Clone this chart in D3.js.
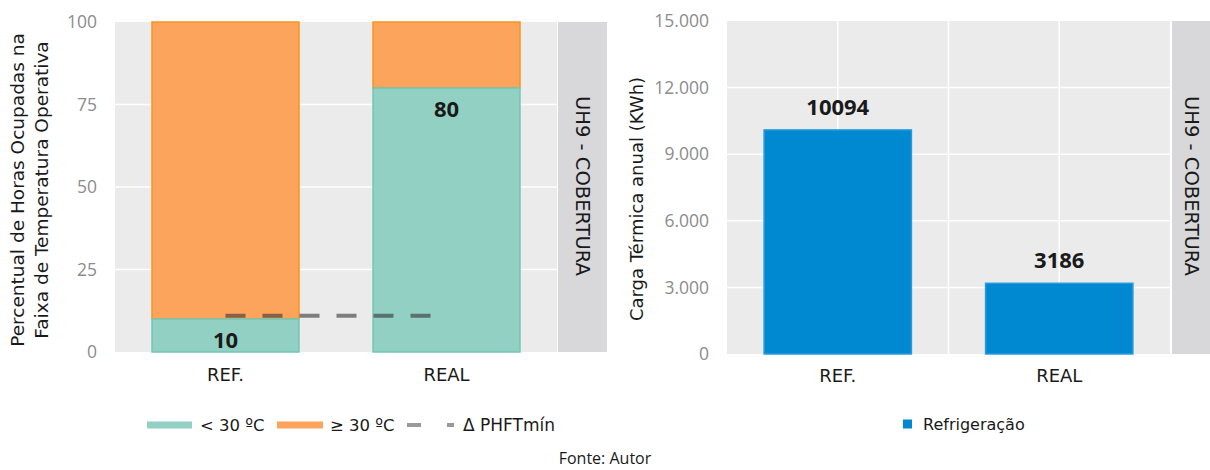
<!DOCTYPE html>
<html>
<head>
<meta charset="utf-8">
<script src="https://cdn.jsdelivr.net/npm/d3@7"></script>
<style>
  body { margin: 0; background: #fff; }
  text { font-family: "DejaVu Sans", sans-serif; }
</style>
</head>
<body>
<script>
  // dados
  const categorias = ['REF.', 'REAL'];
  const abaixo30 = [10, 80];          // % horas < 30 ºC
  const acima30 = [90, 20];           // % horas >= 30 ºC
  const phftMin = 11;                 // linha tracejada
  const pctTicks = [0, 25, 50, 75, 100];
  const refrigeracao = [10094, 3186]; // KWh
  const cargaTicks = [0, 3000, 6000, 9000, 12000, 15000];
  const faixa = 'UH9 - COBERTURA';

  const width = 1210;
  const height = 470;

  const svg = d3.select('body')
          .append('svg')
          .attr('width', width)
          .attr('height', height);

  const fmtPt = d3.formatLocale({ decimal: ',', thousands: '.', grouping: [3], currency: ['', ''] }).format(',d');

  // ---------- painel esquerdo ----------
  const xL = d3.scaleBand().domain(categorias).range([115, 557]).paddingInner(0.335).paddingOuter(0.1675);
  const yL = d3.scaleLinear().domain([0, 100]).range([352, 22]);

  const gL = svg.append('g');
  gL.append('rect').attr('x', 115).attr('y', 22).attr('width', 442).attr('height', 330).attr('fill', '#ebebeb');
  gL.selectAll('line.grid').data(pctTicks.slice(1, -1)).enter().append('line')
          .attr('x1', 115).attr('x2', 557)
          .attr('y1', d => yL(d)).attr('y2', d => yL(d))
          .attr('stroke', '#fff').attr('stroke-width', 1.5);

  const pilha = categorias.map((c, i) => ({ cat: c, baixo: abaixo30[i], alto: acima30[i] }));
  gL.selectAll('rect.alto').data(pilha).enter().append('rect')
          .attr('x', d => xL(d.cat)).attr('width', xL.bandwidth())
          .attr('y', d => yL(d.baixo + d.alto)).attr('height', d => yL(d.baixo) - yL(d.baixo + d.alto))
          .attr('fill', '#fda45c').attr('stroke', '#f7941d').attr('stroke-width', 1.5);
  gL.selectAll('rect.baixo').data(pilha).enter().append('rect')
          .attr('x', d => xL(d.cat)).attr('width', xL.bandwidth())
          .attr('y', d => yL(d.baixo)).attr('height', d => yL(0) - yL(d.baixo))
          .attr('fill', '#92d0c3').attr('stroke', '#72c6b6').attr('stroke-width', 1.5);

  gL.append('line')
          .attr('x1', xL('REF.') + xL.bandwidth() / 2)
          .attr('x2', xL('REAL') + xL.bandwidth() / 2)
          .attr('y1', yL(phftMin)).attr('y2', yL(phftMin))
          .attr('stroke', '#333').attr('stroke-opacity', 0.6)
          .attr('stroke-width', 4).attr('stroke-dasharray', '20,17');

  gL.selectAll('text.val').data(pilha).enter().append('text')
          .attr('x', d => xL(d.cat) + xL.bandwidth() / 2)
          .attr('y', d => yL(d.baixo - 6.5))
          .attr('dy', '0.35em')
          .attr('text-anchor', 'middle')
          .attr('font-size', '22px').attr('font-weight', 'bold')
          .style('font-family', '"Open Sans", sans-serif')
          .attr('fill', '#1a1a1a')
          .text(d => d.baixo);

  const axL = gL.append('g').attr('transform', 'translate(115,0)')
          .call(d3.axisLeft(yL).tickValues(pctTicks).tickSize(0).tickPadding(18));
  axL.select('.domain').remove();
  axL.selectAll('text').attr('font-size', '17.5px').attr('fill', '#8c8c8c')
          .style('font-family', '"Open Sans", sans-serif');

  const axLx = gL.append('g').attr('transform', 'translate(0,352)')
          .call(d3.axisBottom(xL).tickSize(0).tickPadding(16));
  axLx.select('.domain').remove();
  axLx.selectAll('text').attr('font-size', '18px').attr('fill', '#1a1a1a');

  const tituloL = gL.append('text')
          .attr('transform', 'translate(0,190) rotate(-90)')
          .attr('text-anchor', 'middle')
          .attr('font-size', '18.5px').attr('fill', '#1a1a1a');
  tituloL.append('tspan').attr('x', 0).attr('y', 18).attr('dy', '0.35em').text('Percentual de Horas Ocupadas na');
  tituloL.append('tspan').attr('x', 0).attr('y', 42).attr('dy', '0.35em').text('Faixa de Temperatura Operativa');

  gL.append('rect').attr('x', 558).attr('y', 22).attr('width', 49).attr('height', 330).attr('fill', '#d8d8da');
  gL.append('text')
          .attr('transform', 'translate(583,186) rotate(90)')
          .attr('text-anchor', 'middle').attr('dy', '0.35em')
          .attr('font-size', '19.5px').attr('fill', '#1a1a1a')
          .text(faixa);

  // legenda esquerda
  const legL = svg.append('g').attr('transform', 'translate(0,425)');
  legL.append('rect').attr('x', 147).attr('y', -3.5).attr('width', 45).attr('height', 7).attr('fill', '#92d0c3');
  legL.append('text').attr('x', 200).attr('dy', '0.35em').attr('font-size', '16.5px').attr('fill', '#1a1a1a').text('< 30 ºC');
  legL.append('rect').attr('x', 277).attr('y', -3.5).attr('width', 46).attr('height', 7).attr('fill', '#fda45c');
  legL.append('text').attr('x', 330).attr('dy', '0.35em').attr('font-size', '16.5px').attr('fill', '#1a1a1a').text('≥ 30 ºC');
  legL.append('line').attr('x1', 407).attr('x2', 454).attr('y1', 0).attr('y2', 0)
          .attr('stroke', '#333').attr('stroke-opacity', 0.5).attr('stroke-width', 4).attr('stroke-dasharray', '14,26');
  legL.append('text').attr('x', 463).attr('dy', '0.35em').attr('font-size', '17px').attr('fill', '#1a1a1a').text('Δ PHFTmín');

  // ---------- painel direito ----------
  const xR = d3.scaleBand().domain(categorias).range([727, 1170]).paddingInner(0.335).paddingOuter(0.1675);
  const yR = d3.scaleLinear().domain([0, 15000]).range([354, 21]);

  const gR = svg.append('g');
  gR.append('rect').attr('x', 727).attr('y', 21).attr('width', 443).attr('height', 333).attr('fill', '#ebebeb');
  gR.selectAll('line.gridy').data(cargaTicks.slice(1, -1)).enter().append('line')
          .attr('x1', 727).attr('x2', 1170)
          .attr('y1', d => yR(d)).attr('y2', d => yR(d))
          .attr('stroke', '#fff').attr('stroke-width', 1.5);
  const centros = categorias.map(c => xR(c) + xR.bandwidth() / 2);
  const vx = [centros[0], (centros[0] + centros[1]) / 2, centros[1]];
  gR.selectAll('line.gridx').data(vx).enter().append('line')
          .attr('x1', d => d).attr('x2', d => d)
          .attr('y1', 21).attr('y2', 354)
          .attr('stroke', '#fff').attr('stroke-width', 1.5);

  gR.selectAll('rect.bar').data(refrigeracao).enter().append('rect')
          .attr('x', (d, i) => xR(categorias[i])).attr('width', xR.bandwidth())
          .attr('y', d => yR(d)).attr('height', d => yR(0) - yR(d))
          .attr('fill', '#0088d0').attr('stroke', '#2b9be0').attr('stroke-width', 1.5);

  gR.selectAll('text.val').data(refrigeracao).enter().append('text')
          .attr('x', (d, i) => xR(categorias[i]) + xR.bandwidth() / 2)
          .attr('y', d => yR(d) - 23)
          .attr('dy', '0.35em')
          .attr('text-anchor', 'middle')
          .attr('font-size', '22px').attr('font-weight', 'bold')
          .style('font-family', '"Open Sans", sans-serif')
          .attr('fill', '#1a1a1a')
          .text(d => d);

  const axR = gR.append('g').attr('transform', 'translate(727,0)')
          .call(d3.axisLeft(yR).tickValues(cargaTicks).tickFormat(fmtPt).tickSize(0).tickPadding(18));
  axR.select('.domain').remove();
  axR.selectAll('text').attr('font-size', '17.5px').attr('fill', '#8c8c8c')
          .style('font-family', '"Open Sans", sans-serif');

  const axRx = gR.append('g').attr('transform', 'translate(0,354)')
          .call(d3.axisBottom(xR).tickSize(0).tickPadding(15));
  axRx.select('.domain').remove();
  axRx.selectAll('text').attr('font-size', '18px').attr('fill', '#1a1a1a');

  gR.append('text')
          .attr('transform', 'translate(637,199) rotate(-90)')
          .attr('text-anchor', 'middle').attr('dy', '0.35em')
          .attr('font-size', '18px').attr('fill', '#1a1a1a')
          .text('Carga Térmica anual (KWh)');

  gR.append('rect').attr('x', 1172).attr('y', 21).attr('width', 38).attr('height', 333).attr('fill', '#d8d8da');
  gR.append('text')
          .attr('transform', 'translate(1192,186) rotate(90)')
          .attr('text-anchor', 'middle').attr('dy', '0.35em')
          .attr('font-size', '19.5px').attr('fill', '#1a1a1a')
          .text(faixa);

  // legenda direita
  const legR = svg.append('g').attr('transform', 'translate(0,424)');
  legR.append('rect').attr('x', 903).attr('y', -4.5).attr('width', 9).attr('height', 9).attr('fill', '#0088d0');
  legR.append('text').attr('x', 923).attr('dy', '0.35em').attr('font-size', '16px').attr('fill', '#1a1a1a').text('Refrigeração');

  svg.append('text')
          .attr('x', 605).attr('y', 458).attr('dy', '0.35em')
          .attr('text-anchor', 'middle')
          .attr('font-size', '16px').attr('fill', '#1a1a1a')
          .style('font-family', '"Open Sans", sans-serif')
          .text('Fonte: Autor');
</script>
</body>
</html>
